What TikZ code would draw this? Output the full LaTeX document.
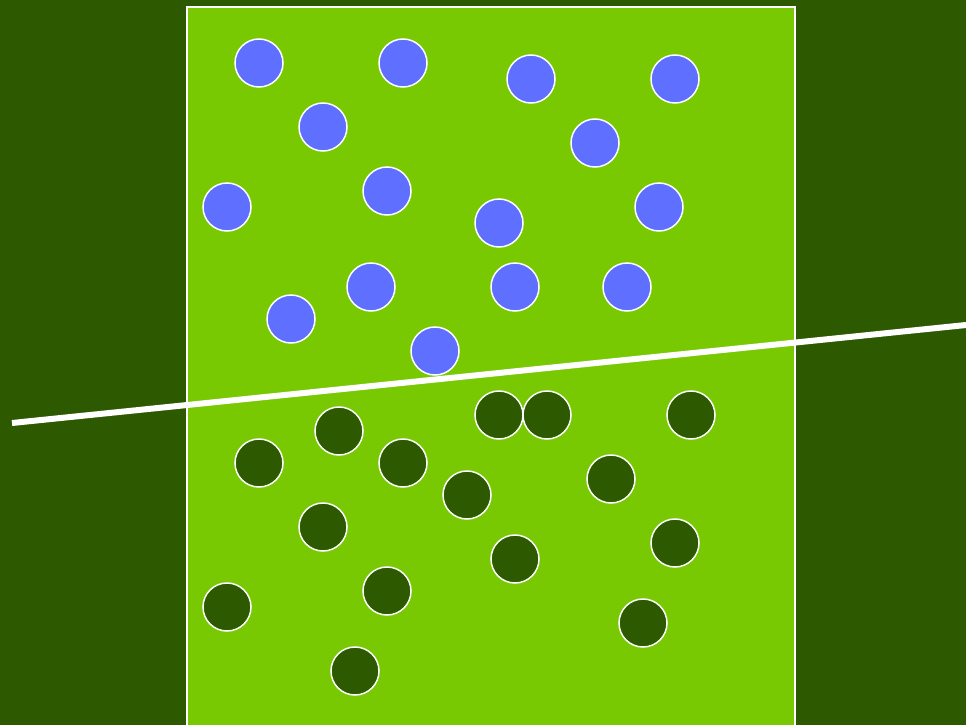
\documentclass[tikz,border=0pt]{standalone}
\usepackage{tikz}
\usetikzlibrary{positioning}
\definecolor{FieldDark}{RGB}{45,90,0}
\definecolor{FieldLight}{RGB}{120,201,2}
\definecolor{TeamBlue}{RGB}{95,111,255}

\tikzset{
  player/.style={circle,draw=white,line width=1.5pt,minimum size=48pt,inner sep=0pt},
  blueplayer/.style={player,fill=TeamBlue},
  darkplayer/.style={player,fill=FieldDark}
}

\begin{document}
\begin{tikzpicture}[x=1pt,y=-1pt]
      \fill[FieldDark] (0,0) rectangle (966,725);
      \useasboundingbox (0,0) rectangle (966,725);
      \draw[fill=FieldLight,draw=white,line width=2pt] (187,7) rectangle (795,740);
      % blue team
      \foreach \px/\py [count=\i] in {259/63,403/63,531/79,675/79,323/127,595/143,
          227/207,387/191,499/223,659/207,371/287,515/287,627/287,291/319,435/351}
        \node[blueplayer] (b\i) at (\px,\py) {};
      % dark team
      \foreach \px/\py [count=\i] in {499/415,547/415,691/415,339/431,259/463,403/463,
          467/495,611/479,323/527,515/559,675/543,227/607,387/591,643/623,355/671}
        \node[darkplayer] (d\i) at (\px,\py) {};
      \coordinate (sepL) at (12,423);
      \coordinate (sepR) at (966,325);
      \draw[white,line width=6pt] (sepL) -- (sepR);
    \end{tikzpicture}
\end{document}
